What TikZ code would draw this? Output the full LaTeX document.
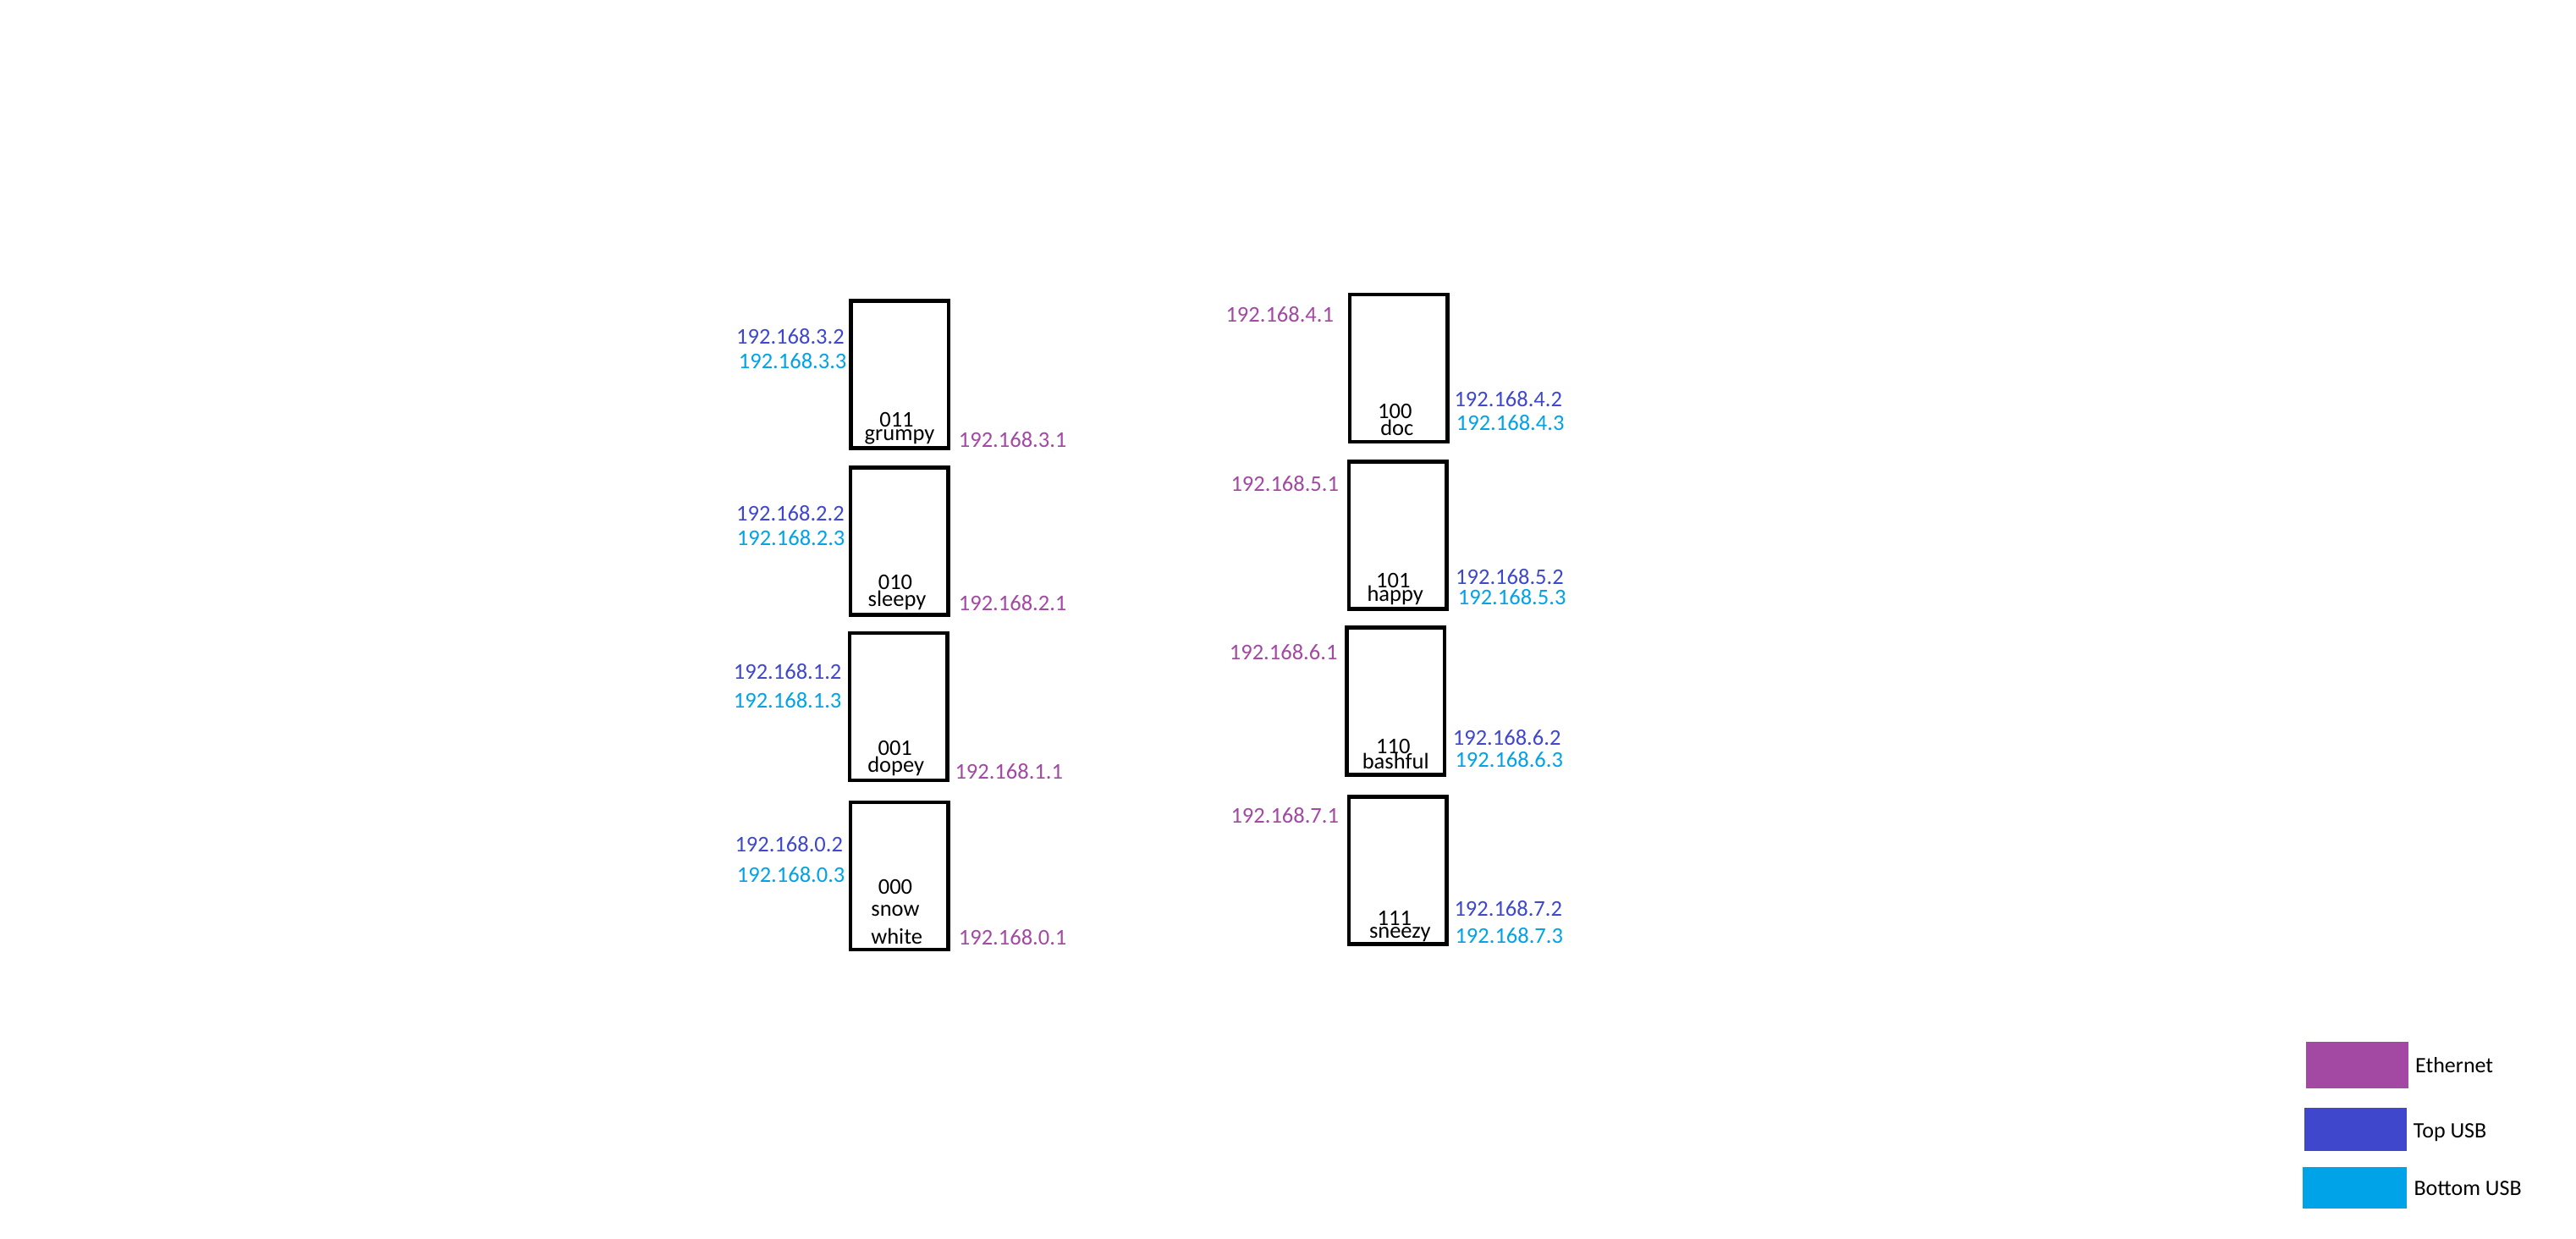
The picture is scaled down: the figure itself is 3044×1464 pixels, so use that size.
\documentclass[tikz,border=0pt]{standalone}
\usepackage{fontspec}
\setmainfont{Carlito}
\definecolor{ethc}{RGB}{163,73,164}
\definecolor{tusbc}{RGB}{63,72,204}
\definecolor{busbc}{RGB}{0,162,232}
\tikzset{
  pibox/.style={draw=black, line width=4.5pt, minimum width=115.5pt, minimum height=174pt, inner sep=0pt},
  txt/.style={inner sep=0pt, font=\fontsize{26.5}{28}\selectfont},
  ipl/.style={txt, anchor=base west},
  inl/.style={txt, anchor=base, text=black},
  ethl/.style={ipl, text=ethc},
  topl/.style={ipl, text=tusbc},
  botl/.style={ipl, text=busbc},
  legbox/.style={inner sep=0pt, minimum width=121pt, minimum height=50pt, anchor=north west},
  legl/.style={txt, anchor=base west, text=black, font=\fontsize{26}{28}\selectfont}
}
\begin{document}
\begin{tikzpicture}[x=1pt,y=-1pt]
\useasboundingbox[fill=white] (0,0) rectangle (3044,1464);
% boxes
\node[pibox] (grumpy) at (1063,442.5) {};
\node[pibox] (sleepy) at (1062.5,639.3) {};
\node[pibox] (dopey) at (1061.5,835.2) {};
\node[pibox] (snow) at (1062.5,1035.2) {};
\node[pibox] (doc) at (1652.5,435.2) {};
\node[pibox] (happy) at (1651.7,632.5) {};
\node[pibox] (bashful) at (1649.3,828.5) {};
\node[pibox] (sneezy) at (1651.7,1028.5) {};
% inner labels
\node[inl] (c011) at (1059.5,504) {011};
\node[inl] (ngrumpy) at (1063,520) {grumpy};
\node[inl] (c010) at (1058,696) {010};
\node[inl] (nsleepy) at (1060,716) {sleepy};
\node[inl] (c001) at (1057.7,892.7) {001};
\node[inl] (ndopey) at (1058.7,912.7) {dopey};
\node[inl] (c000) at (1058,1056) {000};
\node[inl] (nsnow) at (1058,1082.3) {snow};
\node[inl] (nwhite) at (1059.7,1115.7) {white};
\node[inl] (c100) at (1648.3,494) {100};
\node[inl] (ndoc) at (1650.8,514) {doc};
\node[inl] (c101) at (1646.3,694) {101};
\node[inl] (nhappy) at (1648.7,710) {happy};
\node[inl] (c110) at (1646.3,890.7) {110};
\node[inl] (nbashful) at (1649.2,908.3) {bashful};
\node[inl] (c111) at (1647.8,1093.3) {111};
\node[inl] (nsneezy) at (1654.3,1108.3) {sneezy};
% left column IPs
\node[topl] (ip32) at (870,406.7) {192.168.3.2};
\node[botl] (ip33) at (872.7,435) {192.168.3.3};
\node[ethl] (ip31) at (1132.7,528) {192.168.3.1};
\node[topl] (ip22) at (870,615) {192.168.2.2};
\node[botl] (ip23) at (870.7,644) {192.168.2.3};
\node[ethl] (ip21) at (1132.7,721.7) {192.168.2.1};
\node[topl] (ip12) at (866.7,802.7) {192.168.1.2};
\node[botl] (ip13) at (866.7,836.7) {192.168.1.3};
\node[ethl] (ip11) at (1128.3,920) {192.168.1.1};
\node[topl] (ip02) at (868.3,1006.7) {192.168.0.2};
\node[botl] (ip03) at (870.7,1042.7) {192.168.0.3};
\node[ethl] (ip01) at (1132.7,1116) {192.168.0.1};
% right column IPs
\node[ethl] (ip41) at (1448.3,380.7) {192.168.4.1};
\node[topl] (ip42) at (1718.3,480.7) {192.168.4.2};
\node[botl] (ip43) at (1720.7,508.3) {192.168.4.3};
\node[ethl] (ip51) at (1454.3,580) {192.168.5.1};
\node[topl] (ip52) at (1720,690.7) {192.168.5.2};
\node[botl] (ip53) at (1722.7,714) {192.168.5.3};
\node[ethl] (ip61) at (1452.7,779) {192.168.6.1};
\node[topl] (ip62) at (1716.7,880.7) {192.168.6.2};
\node[botl] (ip63) at (1719.3,906) {192.168.6.3};
\node[ethl] (ip71) at (1454.3,972.7) {192.168.7.1};
\node[topl] (ip72) at (1718.3,1082.3) {192.168.7.2};
\node[botl] (ip73) at (1719.3,1114) {192.168.7.3};
% legend
\node[legbox, fill=ethc, minimum height=55pt] (legeth) at (2725,1231) {};
\node[legl] (legethl) at (2854,1267.3) {Ethernet};
\node[legbox, fill=tusbc, minimum height=51pt] (legtop) at (2723,1309) {};
\node[legl] (legtopl) at (2851.7,1344) {Top USB};
\node[legbox, fill=busbc, minimum width=123pt, minimum height=48.7pt] (legbot) at (2721,1379) {};
\node[legl] (legbotl) at (2852.3,1412.3) {Bottom USB};
\end{tikzpicture}
\end{document}
